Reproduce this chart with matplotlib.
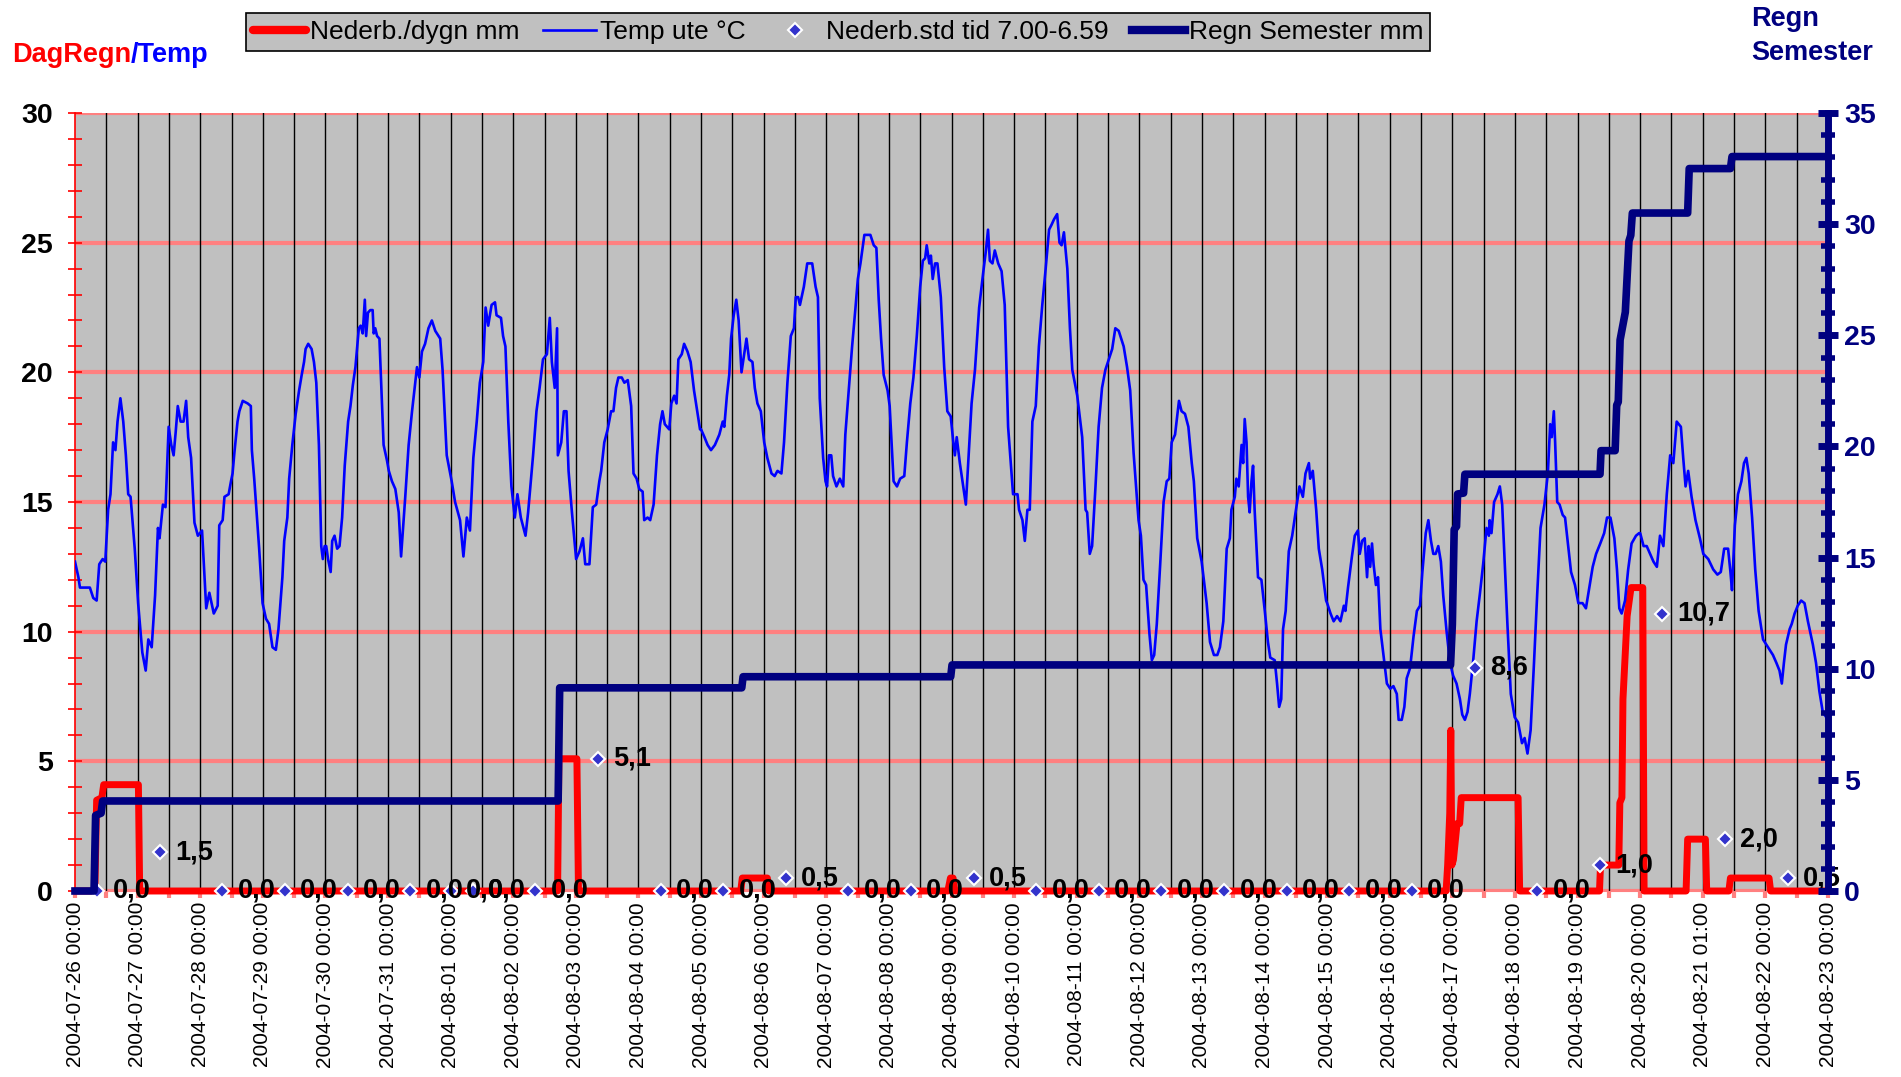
import matplotlib
matplotlib.use("Agg")
import matplotlib.pyplot as plt
from matplotlib.ticker import MultipleLocator, FixedLocator
from matplotlib.lines import Line2D

plt.rcParams["font.family"] = ["Liberation Sans", "DejaVu Sans"]

# All times are hours since 2004-07-26 00:00
TEMP_HOURS = [
    0, 1.3, 1.9, 3.8, 5.7, 7.0, 8.3, 9.3, 10.6, 11.6, 12.7, 13.6, 14.6, 15.5, 16.3, 17.4, 18.5, 19.5, 20.4, 21.3, 22.9,
    24.2, 25.8, 27.1, 28.1, 29.4, 30.7, 31.8, 32.4, 33.7, 34.7, 35.9, 36.9, 37.8, 38.6, 39.4, 40.5, 41.6, 42.6, 43.4, 44.5, 45.8, 47.1,
    48.7, 50.3, 51.5, 53.2, 54.7, 55.3, 56.6, 57.3, 58.9, 59.8, 60.4, 61.1, 62.3, 63.0, 64.3, 66.2, 67.4, 67.8, 68.7, 70.6, 71.9,
    73.2, 74.4, 75.7, 77.0, 78.0, 79.5, 80.2, 81.4, 82.1, 83.3, 84.6, 85.9, 86.9, 87.8, 88.4, 89.4, 90.7, 91.6, 92.5, 93.5, 94.4, 95.0, 95.7,
    96.3, 97.0, 98.0, 98.6, 99.5, 100.5, 101.4, 102.4, 103.4, 104.7, 105.6, 106.5, 107.5, 108.8, 109.5, 110.3, 111.1, 111.6, 112.3, 113.2, 114.1, 114.5, 115.1, 115.8, 116.7, 117.7, 118.3, 119.6,
    120.3, 121.5, 122.8, 124.1, 125.0, 126.6, 127.9, 129.2, 131.1, 132.0, 133.0, 134.2, 135.5, 136.8, 138.1, 140.0, 140.9, 142.5,
    144.4, 145.7, 147.6, 148.9, 150.2, 151.4, 152.7, 154.0, 155.2, 156.5, 157.4, 158.4, 159.7, 161.0, 161.6, 163.3, 164.1, 165.0, 166.1, 167.3,
    168.6, 169.6, 170.9, 172.7, 173.7, 175.6, 176.9, 178.1, 179.4, 180.9, 182.0, 182.8, 183.9, 184.8, 185.1, 186.4, 187.4, 188.4, 189.2, 190.5,
    192.1, 193.4, 194.7, 195.6, 197.2, 198.5, 199.8, 201.0, 201.7, 202.9, 204.2, 205.5, 206.4, 207.4, 208.3, 209.6, 210.6, 211.9, 213.2, 214.1, 215.3,
    216.3, 217.6, 218.2, 219.5, 220.5, 221.8, 223.1, 224.3, 225.2, 226.1, 227.8, 228.6, 229.7, 230.6, 231.3, 232.6, 233.5, 234.8, 236.0, 237.3, 239.6,
    240.0, 241.3, 242.5, 243.8, 245.3, 247.0, 248.3, 248.9, 249.9, 250.8, 251.5, 252.5, 253.5, 254.4, 255.5, 256.5, 257.4, 258.4, 259.7, 260.6, 261.6, 262.9,
    264.2, 265.4, 267.0, 268.2, 269.3, 270.8, 271.8, 273.1, 274.4, 275.6, 276.3, 277.2, 277.9, 279.4, 280.7, 282.6, 283.9, 284.8, 285.5, 286.8,
    287.7, 288.3, 289.0, 289.9, 290.6, 291.9, 293.2, 294.5, 295.3, 296.6, 297.9, 299.2, 300.1, 301.1, 302.6, 304.9, 306.2, 307.2, 308.1, 309.0, 310.0, 311.5,
    312.3, 313.8, 315.1, 316.3, 317.9, 318.9, 320.2, 321.4, 322.7, 324.0, 325.0, 325.9, 326.5, 327.5, 328.1, 328.8, 329.7, 330.6, 331.9, 333.2, 334.4, 335.7,
    336.7, 337.3, 338.0, 339.2, 340.5, 341.5, 342.4, 343.7, 345.0, 346.6, 348.1, 349.2, 350.0, 350.7, 351.7, 352.6, 353.9, 355.2, 356.4, 357.7, 359.6,
    360.0, 361.3, 361.9, 363.2, 364.1, 365.1, 366.0, 367.0, 368.3, 369.5, 370.8, 372.1, 373.4, 374.4, 375.3, 376.5, 377.4, 378.2, 379.1, 380.4, 381.4, 382.3,
    384.2, 386.1, 387.4, 388.0, 389.0, 389.9, 391.2, 392.4, 393.7, 395.0, 396.3, 397.6, 398.8, 400.1, 402.0, 403.3, 404.5, 405.8, 407.7,
    408.6, 409.6, 410.6, 411.9, 412.8, 413.7, 414.7, 416.0, 417.3, 418.5, 419.5, 420.4, 421.7, 423.2, 424.2, 425.5, 426.8, 428.1, 428.9, 430.2, 431.9,
    433.8, 435.1, 436.6, 437.9, 438.9, 440.2, 441.5, 442.7, 443.3, 444.6, 445.2, 446.1, 447.2, 447.8, 448.4, 449.1, 449.7, 450.3, 451.0, 451.6, 452.2, 453.5, 454.8,
    456.1, 457.3, 458.2, 459.9, 460.8, 461.6, 462.4, 463.1, 464.1, 465.3, 466.6, 467.9, 469.4, 470.7, 471.7, 473.0, 473.5, 474.5, 475.8, 476.8, 478.1, 479.6,
    480.0, 481.3, 482.5, 483.8, 485.1, 486.4, 487.0, 488.0, 489.5, 490.6, 491.8, 492.5, 493.4, 494.4, 495.3, 495.9, 496.5, 497.2, 497.8, 498.7, 499.5, 500.4, 501.6, 502.9,
    504.2, 505.4, 506.7, 507.4, 508.6, 509.6, 510.5, 511.8, 513.1, 514.4, 515.6, 516.5, 517.8, 518.8, 519.8, 520.7, 521.6, 522.6, 523.6, 524.5, 525.8, 527.1,
    528.3, 529.6, 530.9, 531.8, 532.8, 533.8, 534.7, 536.0, 537.3, 538.6, 539.8, 541.1, 542.0, 542.3, 543.0, 544.0, 545.3, 546.2, 547.1, 548.1, 549.1, 550.4,
    551.9, 553.2, 554.7, 555.7, 556.8, 558.0, 559.3, 560.5, 561.8, 563.3, 564.6, 565.5, 566.1, 566.9, 567.4, 568.2, 569.1, 570.3, 571.2, 572.2, 573.5, 575.0,
    576.3, 577.9, 579.2, 580.5, 581.8, 583.1, 584.7, 586.2, 587.3, 588.6, 590.1, 591.1, 592.0, 592.9, 594.2, 595.4, 596.7, 598.4, 599.6,
    600.0, 601.3, 602.5, 603.8, 605.1, 606.4, 607.6, 608.9, 610.2, 611.5, 612.7, 614.0, 615.6, 616.5, 617.4, 618.4, 619.7, 621.2, 622.9,
    624.2, 626.1, 628.0, 629.6, 630.9, 632.2, 633.7, 634.6, 635.2, 636.3, 637.5, 638.8, 639.8, 640.7, 641.6, 642.9, 644.1, 645.4, 647.1,
    649.0, 650.9, 652.2, 653.4, 654.3, 655.1, 655.9, 657.3, 658.1, 659.2, 660.4, 661.7, 663.0, 664.3, 666.2, 667.4, 668.7, 670.0, 672.0,
]
TEMP_C = [
    12.7, 12.1, 11.7, 11.7, 11.7, 11.3, 11.2, 12.6, 12.8, 12.7, 14.7, 15.3, 17.3, 17.0, 18.1, 19.0, 18.1, 16.8, 15.3, 15.2, 13.2,
    11.1, 9.2, 8.5, 9.7, 9.4, 11.4, 14.0, 13.6, 14.9, 14.8, 17.9, 17.2, 16.8, 17.7, 18.7, 18.1, 18.1, 18.9, 17.5, 16.7, 14.2, 13.7,
    13.9, 10.9, 11.5, 10.7, 11.0, 14.1, 14.3, 15.2, 15.3, 15.8, 16.1, 16.9, 18.1, 18.5, 18.9, 18.8, 18.7, 17.0, 15.9, 13.2, 11.1,
    10.5, 10.3, 9.4, 9.3, 10.1, 12.1, 13.5, 14.4, 15.9, 17.2, 18.4, 19.3, 19.9, 20.4, 20.9, 21.1, 20.9, 20.4, 19.6, 17.2, 13.3, 12.8, 13.3,
    13.3, 12.8, 12.3, 13.5, 13.7, 13.2, 13.3, 14.4, 16.4, 18.1, 18.7, 19.5, 20.2, 21.7, 21.8, 21.5, 22.8, 21.4, 22.3, 22.4, 22.4, 21.5, 21.7, 21.4, 21.3, 18.7, 17.2, 16.6,
    16.2, 15.8, 15.5, 14.6, 12.9, 15.2, 17.2, 18.5, 20.2, 19.8, 20.8, 21.1, 21.7, 22.0, 21.6, 21.3, 20.1, 16.8,
    15.8, 15.0, 14.3, 12.9, 14.4, 13.9, 16.7, 18.1, 19.6, 20.4, 22.5, 21.8, 22.6, 22.7, 22.2, 22.1, 21.4, 21.0, 18.1, 15.6,
    14.4, 15.3, 14.4, 13.7, 14.6, 16.8, 18.5, 19.4, 20.5, 20.7, 22.1, 20.4, 19.4, 21.7, 16.8, 17.3, 18.5, 18.5, 16.2, 14.6,
    12.8, 13.1, 13.6, 12.6, 12.6, 14.8, 14.9, 15.8, 16.2, 17.3, 17.8, 18.5, 18.5, 19.4, 19.8, 19.8, 19.6, 19.7, 18.7, 16.1, 15.9,
    15.5, 15.4, 14.3, 14.4, 14.3, 14.9, 16.8, 18.0, 18.5, 18.0, 17.8, 18.8, 19.1, 18.8, 20.5, 20.7, 21.1, 20.8, 20.4, 19.3, 17.8,
    17.8, 17.5, 17.2, 17.0, 17.2, 17.6, 18.1, 17.9, 19.1, 19.9, 21.3, 22.2, 22.8, 22.0, 20.0, 20.7, 21.3, 20.5, 20.4, 19.4, 18.8, 18.5,
    17.3, 16.7, 16.1, 16.0, 16.2, 16.1, 17.3, 19.6, 21.4, 21.7, 22.9, 22.9, 22.6, 23.3, 24.2, 24.2, 23.3, 22.9, 19.0, 16.7,
    15.8, 15.6, 16.8, 16.8, 16.0, 15.6, 15.9, 15.6, 17.6, 19.3, 21.0, 22.5, 23.6, 24.2, 25.3, 25.3, 24.9, 24.8, 22.8, 21.3, 19.9, 19.3,
    18.7, 15.8, 15.6, 15.9, 16.0, 17.3, 18.8, 19.8, 21.4, 23.3, 24.3, 24.4, 24.9, 24.2, 24.5, 23.6, 24.2, 24.2, 22.9, 20.2, 18.5, 18.3,
    17.3, 16.8, 17.5, 16.5, 15.6, 14.9, 16.5, 18.8, 20.1, 22.5, 23.8, 24.7, 25.5, 24.3, 24.2, 24.7, 24.2, 23.9, 22.6, 17.9, 15.3,
    15.3, 15.3, 14.7, 14.3, 13.5, 14.7, 14.7, 18.1, 18.7, 21.0, 22.6, 24.0, 25.5, 25.7, 25.9, 26.1, 25.0, 24.9, 25.4, 24.0, 21.7, 20.1,
    19.1, 17.5, 14.7, 14.6, 13.0, 13.3, 15.6, 17.9, 19.4, 20.1, 20.5, 20.9, 21.7, 21.6, 21.0, 20.2, 19.3, 16.9, 14.3,
    13.7, 12.0, 11.8, 9.9, 8.9, 9.1, 10.3, 12.6, 15.0, 15.8, 15.9, 17.3, 17.6, 18.9, 18.5, 18.4, 17.9, 16.5, 15.8, 13.6, 12.7,
    11.1, 9.6, 9.1, 9.1, 9.4, 10.4, 13.2, 13.6, 14.7, 15.2, 15.9, 15.6, 17.2, 16.5, 18.2, 17.3, 15.2, 14.6, 15.8, 16.4, 14.7, 12.1, 12.0,
    10.8, 9.6, 9.0, 8.9, 8.0, 7.1, 7.4, 10.1, 10.8, 13.1, 13.7, 14.6, 15.6, 15.2, 16.1, 16.5, 15.9, 16.2, 14.7, 13.2, 12.4, 11.2,
    11.1, 10.7, 10.4, 10.6, 10.4, 11.0, 10.8, 11.7, 12.9, 13.7, 13.9, 13.0, 13.5, 13.6, 12.1, 13.3, 12.5, 13.4, 12.6, 11.8, 12.1, 10.1, 9.1, 8.0,
    7.8, 7.9, 7.6, 6.6, 6.6, 7.1, 8.2, 8.6, 9.8, 10.8, 11.0, 12.3, 13.8, 14.3, 13.5, 13.0, 13.0, 13.3, 12.7, 11.4, 10.0, 8.8,
    8.3, 8.0, 7.4, 6.8, 6.6, 6.9, 7.6, 8.9, 10.4, 11.5, 12.6, 14.0, 13.7, 14.3, 13.8, 15.0, 15.3, 15.6, 14.9, 12.6, 10.3, 7.6,
    6.7, 6.5, 5.7, 5.9, 5.3, 6.2, 8.8, 11.4, 14.0, 14.9, 16.1, 18.0, 17.5, 18.5, 17.3, 15.0, 14.9, 14.5, 14.4, 13.5, 12.3, 11.8,
    11.1, 11.1, 10.9, 11.7, 12.5, 13.0, 13.4, 13.8, 14.4, 14.4, 13.6, 12.4, 10.9, 10.7, 11.2, 12.4, 13.4, 13.7, 13.8,
    13.8, 13.3, 13.3, 13.0, 12.7, 12.5, 13.7, 13.3, 15.3, 16.8, 16.5, 18.1, 17.9, 16.7, 15.6, 16.2, 15.2, 14.3, 13.6,
    13.0, 12.8, 12.4, 12.2, 12.3, 13.2, 13.2, 12.3, 11.6, 14.1, 15.3, 15.8, 16.5, 16.7, 16.1, 14.4, 12.4, 10.8, 9.7,
    9.4, 9.1, 8.8, 8.5, 8.0, 8.8, 9.5, 10.1, 10.3, 10.7, 11.0, 11.2, 11.1, 10.4, 9.5, 8.8, 7.7, 6.9, 6.6,
]

# Nederb./dygn mm (left axis)
RAIN_DAY_HOURS = [0, 7.6, 8.3, 10.3, 11.0, 24.3, 24.8, 185.0, 185.5, 192.4, 193.0,
                  255.2, 255.8, 265.4, 266.0, 334.6, 335.6, 336.6, 337.3,
                  525.6, 526.2, 527.0, 527.4, 527.8, 528.4, 529.8, 530.8, 531.4, 553.2, 553.8,
                  584.4, 584.8, 591.8, 592.2, 593.0, 593.4, 595.0, 596.5, 601.0, 601.5,
                  617.6, 618.2, 625.0, 625.5, 634.0, 634.6, 649.4, 650.0, 672]
RAIN_DAY_MM = [0, 0, 3.5, 3.6, 4.1, 4.1, 0, 0, 5.1, 5.1, 0,
               0, 0.5, 0.5, 0, 0, 0.5, 0.5, 0,
               0, 1.0, 3.0, 6.2, 1.0, 1.2, 2.6, 2.6, 3.6, 3.6, 0,
               0, 1.0, 1.0, 3.4, 3.6, 7.4, 10.6, 11.7, 11.7, 0,
               0, 2.0, 2.0, 0, 0, 0.5, 0.5, 0, 0]

# Regn Semester mm (right axis)
SEMESTER_HOURS = [0, 7.3, 7.9, 10.0, 10.6, 185.2, 185.8, 255.6, 256.1, 335.7, 336.2,
                  527.3, 528.0, 528.7, 529.6, 530.0, 532.3, 532.8, 584.6, 585.0, 590.4, 591.0,
                  591.6, 592.3, 594.3, 595.7, 596.4, 597.0, 618.2, 618.8, 634.6, 635.2, 672]
SEMESTER_MM = [0, 0, 3.4, 3.5, 4.05, 4.05, 9.14, 9.14, 9.64, 9.64, 10.17,
               10.17, 12.0, 16.26, 16.4, 17.86, 17.9, 18.75, 18.75, 19.81, 19.81, 21.86,
               22.0, 24.79, 26.04, 29.24, 29.5, 30.5, 30.5, 32.5, 32.5, 33.04, 33.04]

# Nederb.std tid 7.00-6.59 (diamonds)
STD_HOURS = [8.5, 32.5, 56.5, 80.5, 104.5, 128.5, 144.0, 152.5, 176.5, 200.5,
             224.5, 248.5, 272.5, 296.5, 320.5, 344.5, 368.5, 392.5, 416.5, 440.5,
             464.5, 488.5, 512.5, 536.5, 560.5, 584.5, 608.5, 632.5, 656.5]
STD_MM = [0.0, 1.5, 0.0, 0.0, 0.0, 0.0, 0.0, 0.0, 0.0, 5.1,
          0.0, 0.0, 0.5, 0.0, 0.0, 0.5, 0.0, 0.0, 0.0, 0.0,
          0.0, 0.0, 0.0, 8.6, 0.0, 1.0, 10.7, 2.0, 0.5]

DAY_LABELS = [
    "2004-07-26 00:00", "2004-07-27 00:00", "2004-07-28 00:00", "2004-07-29 00:00",
    "2004-07-30 00:00", "2004-07-31 00:00", "2004-08-01 00:00", "2004-08-02 00:00",
    "2004-08-03 00:00", "2004-08-04 00:00", "2004-08-05 00:00", "2004-08-06 00:00",
    "2004-08-07 00:00", "2004-08-08 00:00", "2004-08-09 00:00", "2004-08-10 00:00",
    "2004-08-11 00:00", "2004-08-12 00:00", "2004-08-13 00:00", "2004-08-14 00:00",
    "2004-08-15 00:00", "2004-08-16 00:00", "2004-08-17 00:00", "2004-08-18 00:00",
    "2004-08-19 00:00", "2004-08-20 00:00", "2004-08-21 01:00", "2004-08-22 00:00",
    "2004-08-23 00:00",
]

RED = "#FF0000"
PINK = "#FF8080"
NAVY = "#000080"
BLUE = "#0000FF"
DIAMOND = "#3333CC"

fig = plt.figure(figsize=(19.01, 10.77), dpi=100)
ax = fig.add_axes([75 / 1901, 186 / 1077, 1753 / 1901, 778 / 1077])
ax.set_facecolor("#C0C0C0")
ax.set_xlim(0, 672)
ax.set_ylim(0, 30)

# grid: pink horizontals, black verticals every 12 h
for y in range(0, 31, 5):
    ax.axhline(y, color=PINK, lw=3, zorder=1)
for h in range(12, 672, 12):
    ax.axvline(h, color="black", lw=1, zorder=1)

ax.plot(RAIN_DAY_HOURS, RAIN_DAY_MM, color=RED, lw=5, zorder=3,
        solid_joinstyle="round", solid_capstyle="round", clip_on=False)
ax.plot(TEMP_HOURS, TEMP_C, color=BLUE, lw=1.9, zorder=4)
ax.plot(STD_HOURS, STD_MM, ls="none", marker="D", ms=7, mfc=DIAMOND,
        mec="white", mew=1.5, zorder=6, clip_on=False)
for h, v in zip(STD_HOURS, STD_MM):
    ax.annotate(f"{v:.1f}".replace(".", ","), (h, v), xytext=(11, 0),
                textcoords="offset points", ha="left", va="center",
                fontsize=19.5, fontweight="bold", color="black", zorder=7,
                annotation_clip=False)

# x axis
ax.xaxis.set_major_locator(FixedLocator(range(0, 673, 24)))
ax.xaxis.set_minor_locator(MultipleLocator(12))
ax.set_xticklabels(DAY_LABELS, rotation=90, fontsize=15)
ax.tick_params(axis="x", which="both", direction="out", length=5, width=3,
               color=PINK, pad=3)

# left axis
ax.yaxis.set_major_locator(MultipleLocator(5))
ax.yaxis.set_minor_locator(MultipleLocator(1))
ax.tick_params(axis="y", which="both", direction="inout", length=10, width=1.2,
               color=RED, labelsize=20.5, pad=11)
for lbl in ax.get_yticklabels():
    lbl.set_fontweight("bold")

for side in ("top", "right"):
    ax.spines[side].set_visible(False)
ax.spines["left"].set_color(RED)
ax.spines["left"].set_linewidth(1.2)
ax.spines["bottom"].set_color(PINK)

# right axis
ax2 = ax.twinx()
ax2.set_ylim(0, 35)
ax2.plot(SEMESTER_HOURS, SEMESTER_MM, color=NAVY, lw=5.5, zorder=5,
         solid_joinstyle="round", clip_on=False)
ax2.yaxis.set_major_locator(MultipleLocator(5))
ax2.yaxis.set_minor_locator(MultipleLocator(1))
ax2.tick_params(axis="y", which="major", direction="inout", length=15, width=5,
                color=NAVY, labelcolor=NAVY, labelsize=20.5, pad=4)
ax2.tick_params(axis="y", which="minor", direction="inout", length=10, width=4,
                color=NAVY)
for lbl in ax2.get_yticklabels():
    lbl.set_fontweight("bold")
for side in ("top", "left", "bottom"):
    ax2.spines[side].set_visible(False)
ax2.spines["right"].set_color(NAVY)
ax2.spines["right"].set_linewidth(5)

# axis titles
t1 = fig.text(12 / 1901, 1 - 55 / 1077, "DagRegn", color=RED, fontsize=19.5,
              fontweight="bold", ha="left", va="center")
ax.annotate("/Temp", xy=(1, 0), xycoords=t1, ha="left", va="bottom",
            color=BLUE, fontsize=19.5, fontweight="bold")
fig.text(1751 / 1901, 1 - 36 / 1077, "Regn\nSemester", color=NAVY, fontsize=19.5,
         fontweight="bold", ha="left", va="center", linespacing=1.45)

# legend
handles = [
    Line2D([], [], color=RED, lw=6, solid_capstyle="round"),
    Line2D([], [], color=BLUE, lw=1.9),
    Line2D([], [], ls="none", marker="D", ms=7, mfc=DIAMOND, mec="white", mew=1.5),
    Line2D([], [], color=NAVY, lw=6),
]
labels = ["Nederb./dygn mm", "Temp ute °C", "Nederb.std tid 7.00-6.59", "Regn Semester mm"]
leg = fig.legend(handles, labels, loc="center", bbox_to_anchor=(838 / 1901, 1 - 32 / 1077),
                 ncol=4, fontsize=19, frameon=True, fancybox=False, shadow=False,
                 facecolor="#C0C0C0", edgecolor="black", framealpha=1,
                 handlelength=2.0, handletextpad=0.15, columnspacing=0.9,
                 borderpad=0.25)
leg.get_frame().set_linewidth(1.2)

fig.savefig("out.png", dpi=100)
